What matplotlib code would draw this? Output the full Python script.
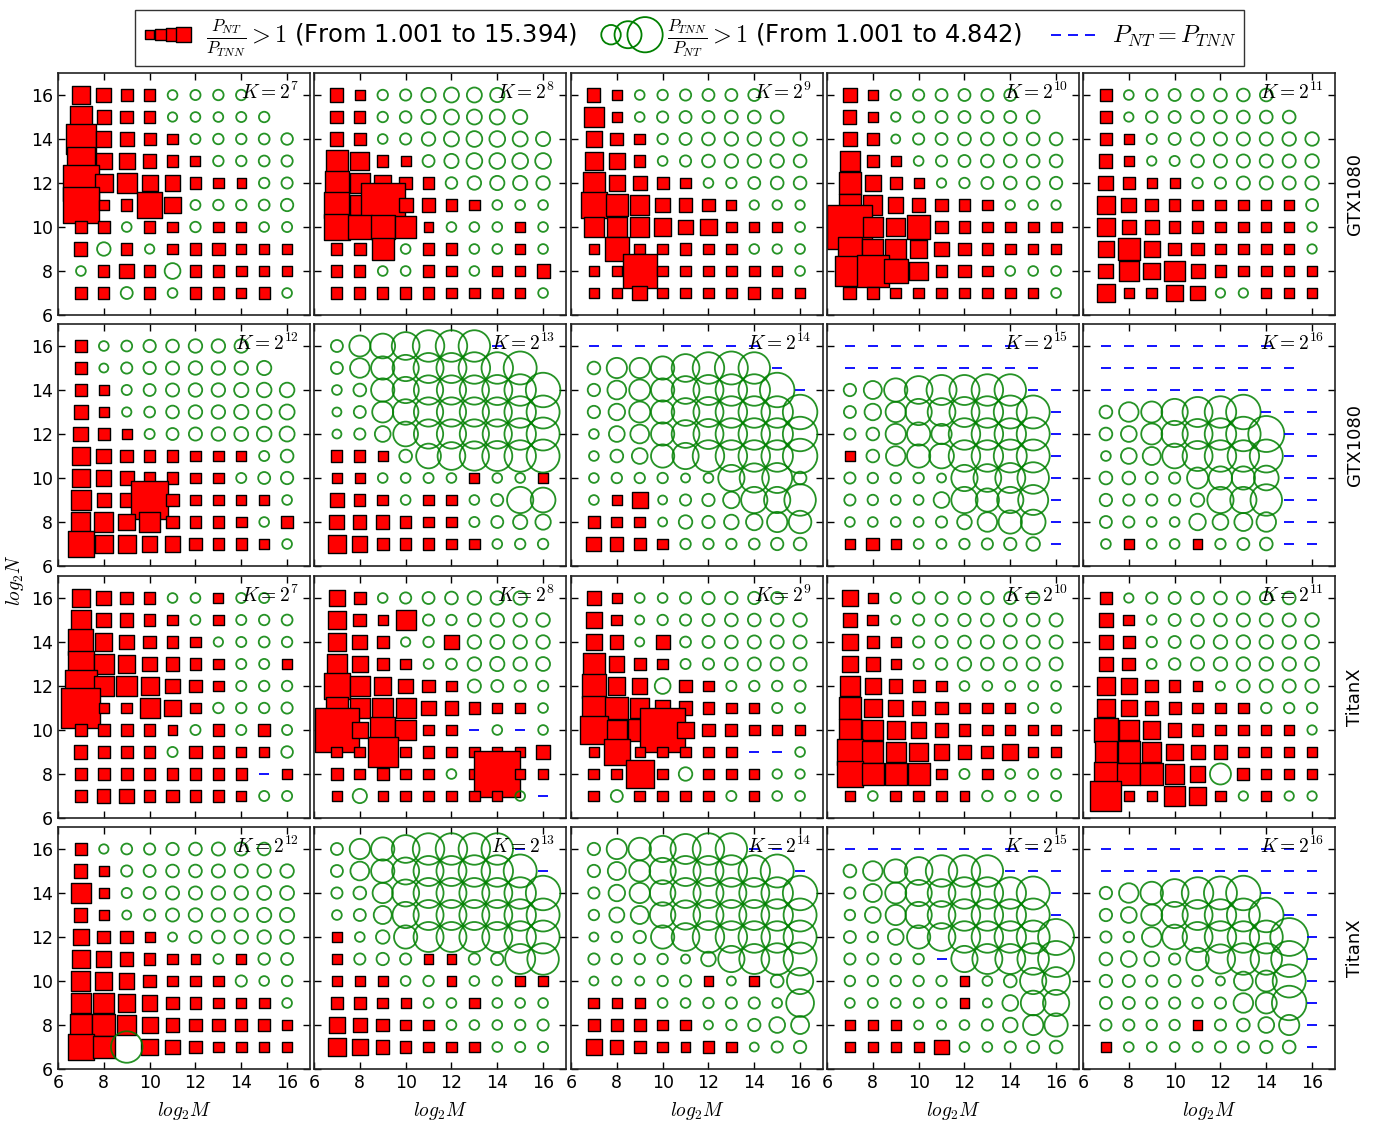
import numpy as np
import matplotlib
matplotlib.use('Agg')
import matplotlib.pyplot as plt
from matplotlib.lines import Line2D
from matplotlib.legend_handler import HandlerPathCollection, HandlerLine2D

plt.rcParams['mathtext.fontset'] = 'cm'

X = np.nan
# rows: log2 N = 16 .. 7 (top to bottom); columns: log2 M = 7 .. 16
# v > 0 : P_NT / P_TNN (red square), v < 0 : -(P_TNN / P_NT) (green circle)
# v == 0 : P_NT == P_TNN (blue dash), nan : no measurement
log2_m = np.arange(7, 17)
log2_n = np.arange(16, 6, -1)

gtx_k7 = [
    [4.7, 3.3, 2.0, 1.8, -1.1, -1.15, -1.2, -1.2, X, X],
    [5.7, 2.9, 2.5, 1.8, -1.05, -1.1, -1.1, -1.15, -1.2, X],
    [9.3, 3.4, 3.0, 2.1, 1.5, -1.13, -1.2, -1.2, -1.25, -1.35],
    [8.3, 3.9, 3.7, 2.7, 1.8, 1.4, -1.2, -1.2, -1.25, -1.3],
    [11.6, 4.7, 5.2, 3.7, 3.4, 1.8, 1.5, 1.2, -1.2, -1.3],
    [11.6, 1.5, 1.8, 7.2, 3.9, -1.13, -1.2, -1.2, -1.25, -1.45],
    [1.9, 2.0, -1.1, 1.8, 1.5, -1.2, 1.5, 1.5, -1.1, -1.15],
    [2.6, -1.6, 1.8, -1.05, 1.5, 1.8, 2.3, 1.4, 1.6, 1.6],
    [-1.1, 1.8, 3.3, 1.8, -1.9, 1.8, 1.8, 1.6, 1.6, 1.6],
    [1.9, 1.8, -1.4, 1.8, -1.1, 1.8, 1.8, 1.4, 1.8, -1.1],
]
gtx_k8 = [
    [2.6, 1.2, -1.2, -1.3, -1.7, -1.8, -1.8, -1.7, X, X],
    [2.5, 1.8, -1.2, -1.35, -1.7, -1.8, -1.8, -1.8, -1.7, X],
    [2.6, 2.0, -1.1, -1.3, -1.6, -1.8, -1.9, -1.9, -1.8, -1.7],
    [5.7, 4.8, 1.8, 1.4, -1.4, -1.7, -1.9, -1.9, -1.9, -1.9],
    [6.6, 5.2, 3.9, 2.4, 1.8, -1.35, -1.6, -1.7, -1.7, -1.6],
    [7.2, 5.2, 14.5, 3.0, 2.6, 1.8, 1.5, -1.1, -1.1, -1.1],
    [7.4, 6.6, 6.6, 5.8, 1.3, -1.1, -1.1, -1.1, 1.5, -1.1],
    [1.8, 2.0, 6.1, -1.1, 1.8, 1.9, -1.1, -1.1, 1.6, -1.1],
    [1.8, 1.8, -1.1, -1.1, 1.9, 1.7, -1.1, 1.5, 1.5, 2.6],
    [1.8, 1.8, 1.8, 1.8, 1.8, 1.7, 1.6, 1.7, 1.6, -1.1],
]
gtx_k9 = [
    [2.6, 1.6, -1.1, -1.2, -1.3, -1.4, -1.4, -1.4, X, X],
    [5.2, 1.6, -1.1, -1.3, -1.4, -1.4, -1.5, -1.5, -1.5, X],
    [3.7, 2.4, 1.6, -1.2, -1.4, -1.5, -1.6, -1.6, -1.6, -1.6],
    [4.5, 3.9, 1.8, -1.1, -1.3, -1.5, -1.6, -1.6, -1.6, -1.5],
    [6.1, 3.9, 2.9, 2.2, 1.6, -1.1, -1.2, -1.4, -1.5, -1.5],
    [7.3, 6.1, 4.9, 3.3, 2.6, 2.2, 1.4, -1.05, -1.05, -1.05],
    [5.5, 5.2, 4.9, 4.1, 3.2, 3.9, 1.5, 1.5, 1.5, -1.1],
    [1.6, 6.8, 1.6, 1.6, 1.8, 1.7, 1.6, -1.1, -1.05, -1.1],
    [1.6, 1.6, 10.6, 1.7, 1.7, 1.6, 1.5, 1.6, 1.5, -1.1],
    [1.6, 1.6, 3.3, 1.7, 1.6, 1.6, 1.5, 2.3, 1.6, 1.6],
]
gtx_k10 = [
    [2.9, 1.5, -1.15, -1.3, -1.4, -1.4, -1.4, -1.4, X, X],
    [2.6, 1.6, -1.05, -1.3, -1.4, -1.4, -1.4, -1.4, -1.5, X],
    [2.7, 2.0, -1.0, -1.3, -1.4, -1.5, -1.5, -1.5, -1.5, -1.5],
    [5.2, 2.3, 1.5, -1.1, -1.3, -1.4, -1.5, -1.5, -1.5, -1.5],
    [5.7, 3.9, 2.0, 1.4, -1.05, -1.2, -1.4, -1.5, -1.5, -1.45],
    [5.9, 4.9, 3.4, 2.6, 2.3, 1.8, 1.5, -1.05, -1.05, -1.05],
    [14.8, 5.0, 4.8, 6.6, 2.3, 1.8, 1.7, 1.7, 1.7, 1.7],
    [6.6, 5.5, 5.6, 4.2, 3.3, 2.4, 1.8, 1.6, 1.6, 1.6],
    [9.1, 10.0, 6.8, 4.8, 2.0, 2.4, 1.6, -1.1, -1.1, -1.1],
    [2.5, 2.0, 1.6, 1.7, 1.6, 1.6, 1.5, 1.7, 1.6, -1.1],
]
gtx_k11 = [
    [1.9, -1.1, -1.35, -1.4, -1.4, -1.5, -1.5, -1.5, X, X],
    [2.2, -1.05, -1.35, -1.4, -1.45, -1.5, -1.5, -1.5, -1.5, X],
    [2.2, 1.5, -1.15, -1.4, -1.55, -1.55, -1.55, -1.55, -1.6, -1.6],
    [2.6, 1.5, -1.05, -1.15, -1.5, -1.55, -1.55, -1.55, -1.55, -1.6],
    [3.3, 2.3, 1.4, 1.4, -1.2, -1.3, -1.55, -1.55, -1.55, -1.6],
    [4.5, 3.2, 2.4, 1.8, 1.6, 1.5, 1.5, 1.5, 1.5, -1.4],
    [4.3, 3.0, 3.0, 2.0, 1.8, 1.6, 1.5, 1.5, 1.5, -1.05],
    [3.7, 5.9, 3.7, 2.4, 2.2, 1.6, 1.6, 1.6, 1.6, -1.05],
    [3.3, 5.2, 3.9, 5.5, 2.9, 2.0, 1.5, 1.6, 1.5, 1.6],
    [4.5, 1.5, 1.7, 3.9, 3.0, -1.05, -1.05, 1.5, 1.5, 1.5],
]
gtx_k12 = [
    [2.0, -1.1, -1.25, -1.45, -1.5, -1.6, -1.6, -1.6, X, X],
    [2.0, -1.0, -1.3, -1.45, -1.55, -1.6, -1.6, -1.6, -1.7, X],
    [2.4, 1.4, -1.15, -1.4, -1.55, -1.6, -1.6, -1.7, -1.75, -1.75],
    [3.0, 1.4, -1.05, -1.25, -1.5, -1.6, -1.6, -1.7, -1.75, -1.8],
    [3.3, 2.3, 1.5, -1.15, -1.4, -1.55, -1.6, -1.65, -1.75, -1.8],
    [4.3, 3.2, 2.4, 2.0, 1.8, 1.5, 1.5, 1.5, -1.15, -1.5],
    [4.5, 3.4, 3.0, 2.0, 1.8, 1.5, 1.5, -1.15, -1.4, -1.45],
    [5.2, 3.0, 3.0, 11.8, 2.2, 1.6, 1.6, 1.5, 1.6, -1.1],
    [4.9, 4.9, 3.9, 5.5, 2.4, 2.0, 1.8, 1.6, -1.1, 2.0],
    [7.4, 4.7, 4.5, 3.5, 3.4, 2.4, 2.0, 1.8, 1.5, -1.1],
]
gtx_k13 = [
    [-1.4, -2.6, -3.1, -3.5, -4.0, -4.0, -4.0, 0, X, X],
    [-1.4, -2.4, -2.9, -3.3, -3.8, -3.8, -4.0, -4.0, -4.2, X],
    [-1.1, -1.5, -2.9, -3.3, -3.7, -3.7, -3.7, -3.8, -4.0, -4.4],
    [-1.0, -1.4, -2.6, -3.2, -3.7, -3.7, -3.7, -3.7, -4.0, -4.2],
    [-1.0, -1.3, -1.9, -3.1, -3.7, -3.7, -3.7, -3.7, -4.0, -4.2],
    [1.8, 1.8, 1.4, -1.5, -3.1, -3.5, -3.7, -3.8, -4.0, -4.2],
    [1.5, 1.4, -1.1, -1.1, -1.15, -1.1, 1.4, -1.1, -1.1, 1.5],
    [3.0, 1.8, 1.6, -1.1, 1.5, 1.5, -1.1, -1.4, -3.3, -3.1],
    [3.3, 2.6, 2.6, 2.0, 1.5, 1.5, -1.15, -1.4, -1.7, -1.85],
    [4.7, 3.4, 2.2, 2.0, 2.0, 1.5, 1.5, -1.1, -1.2, -1.2],
]
gtx_k14 = [
    [0, 0, 0, 0, 0, 0, 0, 0, X, X],
    [-1.5, -2.5, -2.5, -2.9, -3.5, -4.0, -4.2, -4.0, 0, X],
    [-1.45, -2.3, -2.6, -2.9, -3.5, -3.8, -4.0, -4.0, -4.4, 0],
    [-1.45, -2.0, -2.6, -2.9, -3.5, -3.8, -4.0, -4.0, -4.0, -4.4],
    [-1.1, -1.9, -2.3, -2.9, -3.5, -3.8, -4.0, -4.0, -4.0, -4.4],
    [-1.1, -1.5, -1.9, -2.9, -3.3, -4.0, -4.0, -4.0, -4.0, -4.4],
    [-1.1, -1.2, -1.2, -1.2, -1.0, -1.1, -3.3, -3.7, -3.8, -1.5],
    [-1.1, 1.3, 3.6, -1.0, -1.3, -1.45, -2.0, -3.3, -3.3, -4.0],
    [2.4, 1.7, 1.7, -1.0, -1.6, -1.45, -1.75, -2.0, -2.5, -2.8],
    [3.3, 2.6, 2.2, 1.7, -1.2, -1.2, -1.2, -1.25, -1.45, -1.5],
]
gtx_k15 = [
    [0, 0, 0, 0, 0, 0, 0, 0, X, X],
    [0, 0, 0, 0, 0, 0, 0, 0, 0, X],
    [-1.45, -2.2, -2.9, -3.5, -3.8, -3.8, -4.0, -4.0, 0, 0],
    [-1.4, -2.0, -2.5, -3.3, -3.5, -3.8, -4.0, -4.2, -4.2, 0],
    [-1.3, -1.5, -2.5, -2.9, -2.5, -4.0, -4.0, -4.0, -4.2, 0],
    [1.5, -1.5, -2.4, -2.9, -3.1, -4.0, -4.0, -4.2, -4.2, 0],
    [-1.3, -1.2, -1.2, -1.2, -1.0, -3.3, -3.5, -3.8, -4.0, 0],
    [-1.3, -1.2, -1.1, -1.1, -1.9, -3.3, -2.9, -3.3, -3.8, 0],
    [-1.1, -1.1, -1.1, -1.1, -1.3, -1.75, -2.4, -2.9, -3.1, 0],
    [1.5, 2.4, 1.5, -1.1, -1.1, -1.2, -1.3, -1.45, -1.6, 0],
]
gtx_k16 = [
    [0, 0, 0, 0, 0, 0, 0, 0, X, X],
    [0, 0, 0, 0, 0, 0, 0, 0, 0, X],
    [0, 0, 0, 0, 0, 0, 0, 0, 0, 0],
    [-1.5, -2.4, -2.6, -3.3, -3.8, -4.0, -4.4, 0, 0, 0],
    [-1.5, -1.9, -2.6, -3.3, -3.8, -4.0, -4.4, -4.6, 0, 0],
    [-1.1, -1.9, -2.2, -3.1, -3.8, -4.0, -4.0, -4.2, 0, 0],
    [-1.5, -1.5, -1.4, -1.3, -2.6, -2.9, -2.9, -3.1, 0, 0],
    [-1.45, -1.3, -1.3, -1.3, -1.6, -3.3, -3.3, -4.0, 0, 0],
    [-1.4, -1.3, -1.1, -1.1, -2.0, -1.9, -2.2, -2.4, 0, 0],
    [-1.1, 1.3, -1.1, -1.1, 1.3, -1.2, -1.4, -1.5, 0, 0],
]

titan_k7 = [
    [4.7, 3.2, 2.4, 1.8, -1.1, -1.1, 1.4, -1.15, -1.15, X],
    [5.2, 3.2, 2.6, 2.0, 1.5, -1.1, 1.5, -1.15, -1.2, -1.25],
    [7.2, 4.2, 3.2, 2.4, 1.8, 1.5, -1.05, -1.15, -1.25, -1.2],
    [7.7, 5.2, 4.2, 3.2, 2.6, 2.0, 1.5, -1.15, -1.15, 1.5],
    [9.6, 5.2, 5.5, 4.5, 3.3, 2.2, 1.5, -1.15, -1.2, -1.2],
    [12.6, 1.5, 1.7, 5.2, 3.9, 1.5, -1.2, -1.2, -1.2, -1.3],
    [1.9, 2.0, 2.0, 2.0, 1.3, -1.15, 1.8, -1.15, 2.0, -1.15],
    [2.6, 2.0, 2.0, 2.0, -1.15, 2.2, 1.8, 1.4, 1.4, -1.35],
    [2.0, 2.0, 2.0, 2.0, 2.0, 2.0, 1.8, 1.8, 0, 1.5],
    [2.0, 2.6, 3.2, 1.8, 2.4, 1.9, 1.9, 1.5, -1.15, -1.15],
]
titan_k8 = [
    [3.4, 2.0, -1.1, -1.3, -1.4, -1.5, -1.6, -1.6, -1.6, X],
    [4.2, 2.4, 1.3, 5.2, -1.3, -1.2, -1.5, -1.6, -1.6, -1.6],
    [4.2, 3.2, 2.2, -1.05, -1.2, 3.2, -1.6, -1.65, -1.6, -1.6],
    [5.0, 3.7, 2.2, 1.5, -1.1, -1.25, -1.6, -1.7, -1.6, -1.65],
    [7.3, 5.2, 4.2, 3.2, 2.4, 1.5, -1.55, -1.4, -1.3, -1.2],
    [6.0, 5.2, 5.5, 5.2, 3.2, 2.6, 2.0, 1.5, 1.3, -1.1],
    [14.5, 3.9, 7.2, 5.6, 1.5, 1.5, 0, -1.1, 0, -1.1],
    [1.7, 1.7, 9.1, 1.5, 2.0, 1.5, 1.5, 1.5, 1.5, 3.2],
    [2.2, 1.7, 2.0, 1.7, 1.5, -1.1, 1.5, 15.39, 1.5, 1.5],
    [1.5, -1.7, 1.5, 1.7, 1.7, 1.7, 1.7, 1.5, -1.1, 0],
]
titan_k9 = [
    [3.2, 1.5, -1.1, -1.1, -1.3, -1.45, -1.45, -1.45, -1.4, X],
    [3.4, 1.7, -1.0, -1.2, -1.3, -1.4, -1.5, -1.5, -1.5, -1.6],
    [3.6, 2.6, -1.0, 2.9, -1.25, -1.4, -1.5, -1.55, -1.55, -1.55],
    [6.0, 3.4, 2.2, 1.5, -1.15, -1.3, -1.5, -1.55, -1.55, -1.55],
    [6.6, 4.2, 3.4, -1.9, 2.2, 1.7, -1.15, -1.2, -1.2, -1.3],
    [6.6, 6.3, 4.9, 3.4, 2.6, 2.0, 1.5, 1.5, -1.15, -1.1],
    [8.4, 5.2, 6.3, 14.6, 3.9, 2.4, 2.2, 1.7, 1.5, 1.5],
    [1.5, 7.7, 1.5, 1.5, 1.5, 1.5, 1.5, 0, 0, -1.1],
    [1.7, 1.7, 8.3, 1.5, -1.6, 1.7, 1.5, 1.3, -1.05, -1.05],
    [1.7, -1.4, 1.7, 1.7, 1.7, 1.7, -1.15, 1.3, -1.1, -1.1],
]
titan_k10 = [
    [3.9, 1.5, -1.15, -1.35, -1.4, -1.4, -1.45, -1.45, -1.45, X],
    [3.2, 1.7, -1.0, -1.3, -1.4, -1.45, -1.5, -1.5, -1.5, -1.55],
    [3.4, 2.2, 1.3, -1.3, -1.4, -1.5, -1.55, -1.55, -1.55, -1.55],
    [3.6, 2.9, 1.5, -1.15, -1.35, -1.6, -1.5, -1.55, -1.55, -1.55],
    [5.2, 3.6, 2.6, 2.2, 1.5, -1.1, -1.1, -1.1, -1.1, -1.1],
    [6.0, 4.7, 3.4, 2.6, 2.4, 1.7, 1.5, 1.5, -1.15, -1.1],
    [6.0, 5.5, 4.5, 3.4, 2.6, 2.0, 1.7, 1.5, 1.5, 1.3],
    [7.7, 5.7, 5.2, 4.7, 3.4, 2.6, 2.2, 3.6, 1.5, 1.5],
    [7.7, 6.0, 6.0, 6.0, 1.5, -1.15, 1.5, -1.1, -1.1, -1.1],
    [1.5, -1.1, 1.7, 1.5, 1.5, 1.3, -1.2, -1.15, -1.15, -1.15],
]
titan_k11 = [
    [2.4, -1.05, -1.3, -1.4, -1.45, -1.5, -1.5, -1.5, -1.5, X],
    [2.9, 1.7, -1.05, -1.4, -1.45, -1.5, -1.55, -1.55, -1.55, -1.6],
    [3.2, 2.2, -1.2, -1.4, -1.55, -1.6, -1.6, -1.6, -1.6, -1.65],
    [2.9, 2.4, -1.1, -1.35, -1.55, -1.6, -1.6, -1.6, -1.6, -1.65],
    [4.2, 3.9, 2.4, 2.0, 1.3, -1.0, -1.5, -1.55, -1.55, -1.6],
    [4.7, 3.6, 2.6, 2.2, 1.7, 1.5, 1.5, -1.2, -1.2, -1.2],
    [6.6, 5.2, 4.2, 2.6, 2.0, 1.5, 1.5, 1.5, 1.5, -1.05],
    [6.3, 6.0, 4.9, 3.9, 2.9, 2.6, 1.5, 1.5, 1.5, 1.5],
    [6.6, 6.3, 6.3, 4.9, 3.6, -2.6, 2.2, 1.5, 1.5, 1.3],
    [9.4, 1.5, 1.5, 5.5, 4.2, 1.5, -1.05, 1.3, -1.05, -1.05],
]
titan_k12 = [
    [2.4, -1.05, -1.25, -1.3, -1.45, -1.5, -1.55, -1.55, -1.5, X],
    [2.6, 1.3, -1.3, -1.4, -1.5, -1.5, -1.55, -1.55, -1.6, -1.6],
    [5.2, 1.5, -1.15, -1.4, -1.55, -1.55, -1.6, -1.6, -1.65, -1.65],
    [2.6, 1.5, -1.0, -1.3, -1.55, -1.6, -1.6, -1.6, -1.7, -1.7],
    [3.9, 2.4, 2.4, 1.3, -1.0, -1.4, -1.5, -1.6, -1.6, -1.65],
    [4.5, 3.4, 2.6, 2.0, 1.5, 1.3, -1.1, 1.3, -1.35, -1.4],
    [4.9, 4.2, 3.4, 2.4, 1.7, 1.7, 1.5, -1.3, -1.1, -1.2],
    [5.5, 5.5, 4.2, 3.4, 2.2, 2.0, 1.5, 1.3, 1.7, -1.1],
    [6.3, 6.3, 4.9, 3.6, 2.6, 2.2, 2.4, 2.2, 2.0, 1.5],
    [7.5, 6.0, -4.0, 3.9, 3.2, 2.4, 1.7, 1.7, 1.5, 1.5],
]
titan_k13 = [
    [-1.4, -2.5, -2.9, -3.5, -4.0, -4.0, -4.0, -4.0, 0, X],
    [-1.4, -2.3, -2.9, -3.4, -3.8, -3.8, -4.0, -4.0, -4.2, 0],
    [-1.3, -1.5, -2.5, -3.4, -3.8, -3.8, -3.8, -3.8, -4.0, -4.4],
    [-1.1, -1.4, -2.2, -3.3, -3.8, -3.8, -3.8, -3.8, -4.0, -4.2],
    [1.5, -1.1, -1.6, -2.9, -3.8, -3.8, -3.8, -3.8, -4.0, -4.2],
    [1.3, -1.3, -1.45, -1.3, 1.3, 1.3, -1.3, -1.45, -3.8, -4.0],
    [1.5, 1.5, 1.5, -1.1, -1.2, 1.3, -1.1, -1.05, 1.5, 1.5],
    [2.4, 2.2, 1.7, 1.3, -1.1, -1.1, 1.5, -1.1, -1.1, -1.1],
    [3.6, 2.9, 2.4, 1.7, 1.5, -1.1, -1.1, -1.1, -1.2, -1.3],
    [4.7, 3.6, 2.6, 2.0, 1.7, 1.5, 1.5, -1.1, -1.15, -1.15],
]
titan_k14 = [
    [-1.45, -2.5, -2.8, -3.3, -3.8, -4.0, -4.0, 0, 0, X],
    [-1.45, -2.2, -2.6, -3.3, -3.8, -3.8, -4.0, -4.0, -4.2, 0],
    [-1.3, -2.0, -2.5, -3.2, -3.8, -3.8, -3.8, -3.8, -4.0, -4.4],
    [-1.2, -1.8, -2.2, -3.2, -3.7, -3.8, -3.8, -3.8, -4.0, -4.2],
    [-1.0, -1.2, -1.45, -2.9, -3.5, -4.0, -4.0, -4.0, -4.0, -4.2],
    [-1.3, -1.2, -1.2, -1.2, -1.0, -1.75, -3.3, -3.8, -4.0, -4.2],
    [-1.0, -1.0, -1.0, -1.2, -1.3, 1.3, -1.0, 1.3, -1.5, -3.3],
    [1.7, 1.5, 1.5, -1.1, -1.1, -1.2, -1.3, -1.3, -1.1, -3.5],
    [2.4, 2.2, 2.0, 1.5, 1.5, -1.0, -1.2, -1.45, -1.9, -2.2],
    [3.4, 2.6, 2.2, 1.5, 1.3, 2.0, 1.5, -1.0, -1.3, -1.45],
]
titan_k15 = [
    [0, 0, 0, 0, 0, 0, 0, 0, 0, X],
    [-1.5, -2.4, -2.9, -3.5, -4.0, -4.0, -4.0, 0, 0, 0],
    [-1.3, -2.2, -2.6, -3.3, -3.5, -4.0, -4.0, -4.0, -4.2, 0],
    [-1.2, -1.9, -2.5, -3.3, -3.5, -4.0, -4.0, -4.0, -4.2, 0],
    [-1.4, -1.2, -1.9, -2.9, -3.5, -4.0, -4.0, -4.0, -4.2, -4.6],
    [-1.3, -1.3, -1.2, -1.2, 0, -3.3, -3.8, -3.8, -4.0, -4.6],
    [-1.2, -1.2, -1.2, -1.2, -1.2, 1.3, -1.1, -1.5, -3.3, -3.5],
    [-1.1, -1.1, -1.1, -1.1, -1.1, 1.3, -1.0, -1.9, -3.1, -3.3],
    [1.5, 1.5, 1.5, -1.0, -1.0, -1.1, -1.3, -1.75, -2.5, -2.9],
    [1.5, 1.5, 1.3, 1.3, 3.2, -1.1, -1.1, -1.3, -1.4, -1.5],
]
titan_k16 = [
    [0, 0, 0, 0, 0, 0, 0, 0, 0, X],
    [0, 0, 0, 0, 0, 0, 0, 0, 0, 0],
    [-1.45, -2.4, -2.8, -3.5, -4.0, -4.2, -4.4, 0, 0, 0],
    [-1.45, -1.9, -2.6, -3.3, -3.8, -4.0, -4.2, -4.4, 0, 0],
    [-1.3, -1.2, -2.4, -3.1, -3.8, -4.0, -4.0, -4.2, -4.84, 0],
    [-1.5, -1.9, -1.75, -1.3, -2.8, -3.7, -4.0, -4.0, -4.6, 0],
    [-1.45, -1.4, -1.3, -1.4, -1.2, -1.0, -2.3, -2.6, -4.2, 0],
    [-1.4, -1.4, -1.3, -1.3, -1.2, -1.3, -2.4, -2.6, -4.4, 0],
    [-1.3, -1.3, -1.2, -1.2, 1.3, -1.3, -1.5, -1.9, -2.5, 0],
    [1.3, -1.1, -1.1, -1.1, -1.1, -1.3, -1.3, -1.45, -1.5, 0],
]

k_top = [7, 8, 9, 10, 11]
k_bottom = [12, 13, 14, 15, 16]
grid_rows = [
    ('GTX1080', k_top, [gtx_k7, gtx_k8, gtx_k9, gtx_k10, gtx_k11]),
    ('GTX1080', k_bottom, [gtx_k12, gtx_k13, gtx_k14, gtx_k15, gtx_k16]),
    ('TitanX', k_top, [titan_k7, titan_k8, titan_k9, titan_k10, titan_k11]),
    ('TitanX', k_bottom, [titan_k12, titan_k13, titan_k14, titan_k15, titan_k16]),
]

W, H = 1379, 1128
fig = plt.figure(figsize=(W / 100, H / 100), dpi=100)
px2pt = 72 / 100


def sq_area(r):
    side = 9 + 2.6 * (r - 1)
    return (side * px2pt) ** 2


def circ_area(r):
    d = 9 + 7.5 * (r - 1)
    return (d * px2pt) ** 2


col_x = [58, 314, 571, 827, 1083]
row_y = [73, 324, 576, 827]
aw, ah = 252, 242

for ri, (gpu, ks, panels) in enumerate(grid_rows):
    for ci, (k, vals) in enumerate(zip(ks, panels)):
        ax = fig.add_axes([col_x[ci] / W, 1 - (row_y[ri] + ah) / H, aw / W, ah / H])
        v = np.array(vals, dtype=float)
        mm, nn = np.meshgrid(log2_m, log2_n)
        red = v > 0
        grn = v < 0
        eq = v == 0
        ax.scatter(mm[red], nn[red], s=sq_area(v[red]), marker='s',
                   facecolors='red', edgecolors='black', linewidths=1.0, zorder=2)
        ax.scatter(mm[grn], nn[grn], s=circ_area(-v[grn]), marker='o',
                   facecolors='none', edgecolors='green', linewidths=1.3,
                   alpha=0.85, zorder=3)
        ax.plot(mm[eq], nn[eq], linestyle='none', marker='_', color='blue',
                markersize=6.5, markeredgewidth=1.3, zorder=4)
        ax.set_xlim(6, 17)
        ax.set_ylim(6, 17)
        ax.set_xticks(range(6, 17, 2))
        ax.set_yticks(range(6, 17, 2))
        ax.tick_params(direction='in', top=True, right=True, length=5,
                       width=1, labelsize=12.5)
        for sp in ax.spines.values():
            sp.set_linewidth(1.2)
            sp.set_color('#222222')
        if ci > 0:
            ax.set_yticklabels([])
        if ri < 3:
            ax.set_xticklabels([])
        else:
            ax.set_xlabel('$log_2M$', fontsize=14, labelpad=6)
        ax.text(0.955, 0.965, '$K=2^{%d}$' % k, transform=ax.transAxes,
                ha='right', va='top', fontsize=14, zorder=6)
        if ci == 4:
            ax.yaxis.set_label_position('right')
            ax.set_ylabel(gpu, fontsize=13, labelpad=8)

fig.text(15 / W, 1 - 580 / H, '$log_2N$', rotation=90, fontsize=14,
         ha='center', va='center')

# legend proxies
lax = fig.axes[0]
h_red = lax.scatter([], [], marker='s', facecolors='red', edgecolors='black', linewidths=1.0)
h_grn = lax.scatter([], [], marker='o', facecolors='none', edgecolors='green', linewidths=1.3)
h_eq = Line2D([], [], linestyle='none', marker='_', color='blue',
              markersize=6.5, markeredgewidth=1.3)
labels = [r'$\frac{P_{NT}}{P_{TNN}} > 1$ (From 1.001 to 15.394)',
          r'$\frac{P_{TNN}}{P_{NT}} > 1$ (From 1.001 to 4.842)',
          r'$P_{NT} = P_{TNN}$']
hmap = {
    h_red: HandlerPathCollection(numpoints=4, yoffsets=[0.5] * 4,
                                 sizes=[sq_area(r) for r in (1.0, 1.8, 2.5, 3.3)]),
    h_grn: HandlerPathCollection(numpoints=3, yoffsets=[0.5] * 3,
                                 sizes=[circ_area(r) for r in (2.4, 3.4, 4.5)]),
    h_eq: HandlerLine2D(numpoints=3),
}
leg = fig.legend([h_red, h_grn, h_eq], labels, loc='upper center',
                 bbox_to_anchor=(0.5, 1 - 10 / H), ncol=3, fontsize=17.5,
                 handler_map=hmap, handlelength=2.0, columnspacing=1.1,
                 handletextpad=0.6, borderaxespad=0, fancybox=False,
                 edgecolor='black', borderpad=0.3)
leg.get_frame().set_linewidth(1.0)

fig.savefig('out.png', dpi=100)
